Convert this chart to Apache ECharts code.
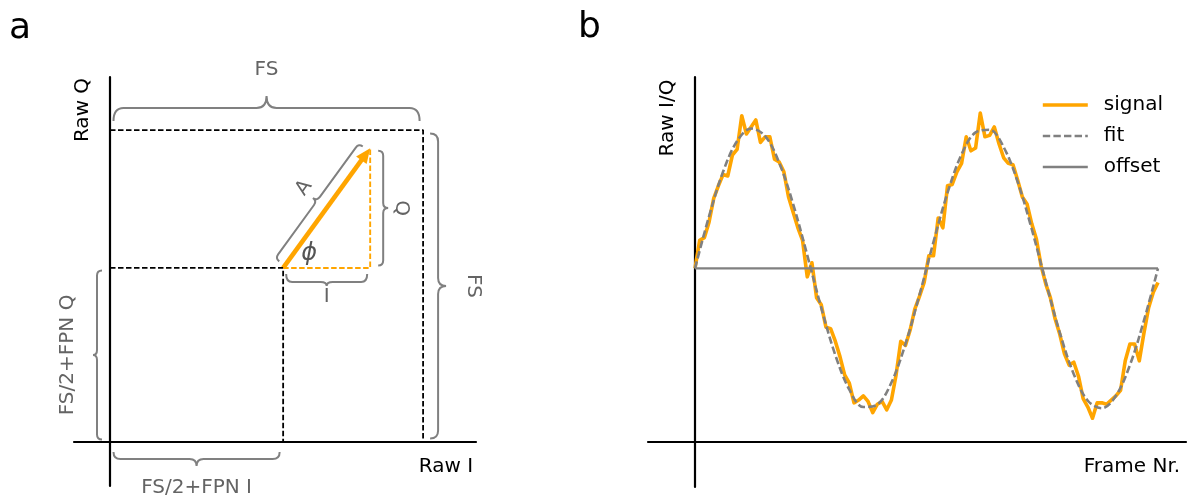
<!DOCTYPE html>
<html><head><meta charset="utf-8">
<script src="https://cdn.jsdelivr.net/npm/echarts@6/dist/echarts.min.js"></script>
<style>html,body{margin:0;padding:0;background:#fff}#c{width:1188px;height:498px}</style>
</head><body><div id="c"></div>
<script>
// ---------- Panel a (units of full scale, FS = 1) ----------
const FS = 1;
const fpnI = 0.553;   // FS/2 + FPN I
const fpnQ = 0.558;   // FS/2 + FPN Q
const vecI = 0.278;   // I component of the phasor
const vecQ = 0.384;   // Q component of the phasor

// ---------- Panel b ----------
const OFFSET = 1.24;
const frames = [
  0,1,2,3,4,5,6,7,8,9,10,11,12,13,14,15,16,17,18,19,20,21,22,23,24,25,26,27,28,29,
  30,31,32,33,34,35,36,37,38,39,40,41,42,43,44,45,46,47,48,49,50,51,52,53,54,55,56,57,58,59,
  60,61,62,63,64,65,66,67,68,69,70,71,72,73,74,75,76,77,78,79,80,81,82,83,84,85,86,87,88,89,
  90,91,92,93,94,95,96,97,98,99];
const signal = [
  0.00,0.20,0.22,0.33,0.50,0.59,0.67,0.66,0.81,0.85,
  1.09,0.96,1.01,1.06,0.90,0.94,0.94,0.78,0.76,0.69,
  0.51,0.40,0.29,0.20,-0.06,0.04,-0.21,-0.26,-0.42,-0.43,
  -0.52,-0.63,-0.76,-0.82,-0.96,-0.94,-0.91,-0.95,-1.03,-0.97,
  -0.95,-1.01,-0.94,-0.76,-0.52,-0.55,-0.44,-0.29,-0.20,-0.10,
  0.09,0.09,0.36,0.29,0.59,0.60,0.69,0.75,0.94,0.84,
  0.86,1.11,0.94,0.95,1.01,0.89,0.79,0.75,0.74,0.63,
  0.51,0.46,0.32,0.21,0.02,-0.11,-0.21,-0.36,-0.47,-0.61,
  -0.69,-0.67,-0.77,-0.93,-0.99,-1.07,-0.96,-0.96,-0.97,-0.94,
  -0.91,-0.87,-0.66,-0.54,-0.54,-0.66,-0.46,-0.28,-0.17,-0.10];
const fitFrames = [0,3,6,9,12,15,18,21,24,27,30,33,36,39,42,45,48,51,54,57,60,63,66,69,72,75,78,81,84,87,90,93,96,99];
const fitValues = [0,0.3717,0.6901,0.9096,0.9989,0.9450,0.7557,0.4582,0.0951,-0.2817,-0.6182,-0.8660,-0.9898,-0.9718,-0.8146,-0.5406,-0.1893,
  0.1893,0.5406,0.8146,0.9718,0.9898,0.8660,0.6182,0.2817,-0.0951,-0.4582,-0.7557,-0.9450,-0.9989,-0.9096,-0.6901,-0.3717,0];
const offsetFrames = [0,99];

const ORANGE = '#FFA500', GREY = '#808080', TXT = '#646464', FONT = '"DejaVu Sans"';
const cI = fpnI, cQ = fpnQ, tI = fpnI + vecI, tQ = fpnQ + vecQ;

const braces = [
  {a:[0,FS],  b:[FS,FS], gap:9,  h1:13, h2:12, r:10, inset:3.5, label:'FS', off:26, rot:0},
  {a:[FS,FS], b:[FS,0],  gap:7,  h1:8,  h2:8,  r:8,  inset:3.5, label:'FS', off:27, rot:-90},
  {a:[0,0],   b:[0,cQ],  gap:8,  h1:5,  h2:4,  r:5,  inset:2.5, label:'FS/2+FPN Q', off:25, rot:90},
  {a:[cI,0],  b:[0,0],   gap:10, h1:7,  h2:7,  r:7,  inset:3.5, label:'FS/2+FPN I', off:22, rot:0},
  {a:[tI,tQ], b:[tI,cQ], gap:8,  h1:5,  h2:5,  r:5,  inset:2.5, label:'Q', off:13.5, rot:-90},
  {a:[tI,cQ], b:[cI,cQ], gap:6,  h1:8,  h2:4,  r:6,  inset:3,   label:'I', off:11, rot:0},
  {a:[cI,cQ], b:[tI,tQ], gap:7,  h1:5,  h2:5,  r:5,  inset:3,   label:'A', off:13, rot:'along', shift:3}
];

function braceItem(params, api) {
  const b = braces[params.dataIndex];
  const p1 = api.coord(b.a), p2 = api.coord(b.b);
  const dx = p2[0]-p1[0], dy = p2[1]-p1[1], L0 = Math.hypot(dx, dy);
  const u = [dx/L0, dy/L0], n = [u[1], -u[0]];
  const P = (s,t) => [p1[0]+u[0]*s+n[0]*t, p1[1]+u[1]*s+n[1]*t];
  const s0 = b.inset, s1 = L0 - b.inset, m = (s0+s1)/2;
  const g = b.gap, h1 = g + b.h1, h2 = h1 + b.h2, r = b.r;
  const f = p => p[0].toFixed(2)+' '+p[1].toFixed(2);
  const d = 'M'+f(P(s0,g))+' Q'+f(P(s0,h1))+' '+f(P(s0+r,h1))+
            ' L'+f(P(m-r,h1))+' Q'+f(P(m,h1))+' '+f(P(m,h2))+
            ' Q'+f(P(m,h1))+' '+f(P(m+r,h1))+
            ' L'+f(P(s1-r,h1))+' Q'+f(P(s1,h1))+' '+f(P(s1,g));
  const lp = P(m + (b.shift||0), h2 + b.off);
  const rot = b.rot === 'along' ? Math.atan2(-dy, dx) : b.rot*Math.PI/180;
  return {type:'group', children:[
    {type:'path', shape:{pathData:d}, style:{stroke:GREY, fill:'none', lineWidth:2}},
    {type:'text', x:lp[0], y:lp[1], rotation:rot,
     style:{text:b.label, x:0, y:0, fill:TXT, font:'20px '+FONT, align:'center', verticalAlign:'middle'}}
  ]};
}

function arrowItem(params, api) {
  const p0 = api.coord([cI,cQ]), p1 = api.coord([tI,tQ]);
  const dx = p1[0]-p0[0], dy = p1[1]-p0[1], L = Math.hypot(dx,dy);
  const u = [dx/L, dy/L], n = [u[1], -u[0]];
  const hl = 15, hw = 6.5;
  const base = [p1[0]-u[0]*hl, p1[1]-u[1]*hl];
  const shaftEnd = [p1[0]-u[0]*hl*0.7, p1[1]-u[1]*hl*0.7];
  return {type:'group', children:[
    {type:'line', shape:{x1:p0[0], y1:p0[1], x2:shaftEnd[0], y2:shaftEnd[1]}, style:{stroke:ORANGE, lineWidth:4.6}},
    {type:'polygon', shape:{points:[p1, [base[0]+n[0]*hw, base[1]+n[1]*hw], [base[0]-n[0]*hw, base[1]-n[1]*hw]]}, style:{fill:ORANGE}},
    {type:'text', x:p0[0]+26, y:p0[1]-14,
     style:{text:'ϕ', x:0, y:0, fill:'#555', font:'italic 24px '+FONT, align:'center', verticalAlign:'middle'}}
  ]};
}

const hidden = {axisTick:{show:false}, axisLabel:{show:false}, splitLine:{show:false}};
const axisLine = {onZero:true, lineStyle:{color:'#000', width:2.2}};

const option = {
  animation:false,
  grid:[
    {left:74, top:77, width:402, height:409},
    {left:648, top:77, width:538, height:410}
  ],
  xAxis:[
    Object.assign({gridIndex:0, type:'value', min:-0.115, max:1.169, axisLine}, hidden),
    Object.assign({gridIndex:1, type:'value', min:-10.05, max:104.99, axisLine}, hidden)
  ],
  yAxis:[
    Object.assign({gridIndex:0, type:'value', min:-0.141, max:1.170, axisLine}, hidden),
    Object.assign({gridIndex:1, type:'value', min:-0.321, max:2.607, axisLine}, hidden)
  ],
  legend:{
    data:['signal','fit','offset'], orient:'vertical', left:1036, top:90,
    itemWidth:45, itemHeight:14, itemGap:11, selectedMode:false,
    itemStyle:{opacity:0},
    lineStyle:{width:'inherit'},
    textStyle:{fontSize:20, fontFamily:'DejaVu Sans', color:'#000', lineHeight:20, padding:[0,0,0,11]}
  },
  graphic:[
    {type:'text', x:9, y:29, style:{text:'a', font:'36px '+FONT, fill:'#000', align:'left', verticalAlign:'middle'}},
    {type:'text', x:578, y:28, style:{text:'b', font:'36px '+FONT, fill:'#000', align:'left', verticalAlign:'middle'}},
    {type:'text', x:83, y:110, rotation:Math.PI/2, style:{text:'Raw Q', font:'20px '+FONT, fill:'#000', align:'center', verticalAlign:'middle'}},
    {type:'text', x:446, y:467, style:{text:'Raw I', font:'20px '+FONT, fill:'#000', align:'center', verticalAlign:'middle'}},
    {type:'text', x:668, y:118, rotation:Math.PI/2, style:{text:'Raw I/Q', font:'20px '+FONT, fill:'#000', align:'center', verticalAlign:'middle'}},
    {type:'text', x:1132, y:467, style:{text:'Frame Nr.', font:'20px '+FONT, fill:'#000', align:'center', verticalAlign:'middle'}}
  ],
  series:[
    {type:'line', name:'fs box', xAxisIndex:0, yAxisIndex:0, symbol:'none', silent:true,
     data:[[0,FS],[FS,FS],[FS,0]], lineStyle:{color:'#000', width:1.8, type:[5.5,2.5]}},
    {type:'line', name:'offset box', xAxisIndex:0, yAxisIndex:0, symbol:'none', silent:true,
     data:[[0,fpnQ],[fpnI,fpnQ],[fpnI,0]], lineStyle:{color:'#000', width:1.8, type:[5.5,2.5]}},
    {type:'line', name:'components', xAxisIndex:0, yAxisIndex:0, symbol:'none', silent:true,
     data:[[cI,cQ],[tI,cQ],[tI,tQ]], lineStyle:{color:ORANGE, width:1.9, type:[5.5,2.5]}},
    {type:'custom', name:'arrow', xAxisIndex:0, yAxisIndex:0, silent:true, clip:false,
     data:[[cI,cQ]], renderItem:arrowItem},
    {type:'custom', name:'braces', xAxisIndex:0, yAxisIndex:0, silent:true, clip:false,
     data:braces.map(b => b.a), renderItem:braceItem},

    {type:'line', name:'signal', xAxisIndex:1, yAxisIndex:1, symbol:'none', showSymbol:false, silent:true,
     data:frames.map((f,i) => [f, OFFSET + signal[i]]),
     lineStyle:{color:ORANGE, width:3.6, join:'round'}, itemStyle:{color:ORANGE}},
    {type:'line', name:'fit', xAxisIndex:1, yAxisIndex:1, symbol:'none', showSymbol:false, silent:true, smooth:0.35,
     data:fitFrames.map((f,i) => [f, OFFSET + fitValues[i]]),
     lineStyle:{color:GREY, width:2.6, type:[7.4,3.2]}, itemStyle:{color:GREY}},
    {type:'line', name:'offset', xAxisIndex:1, yAxisIndex:1, symbol:'none', showSymbol:false, silent:true,
     data:offsetFrames.map(f => [f, OFFSET]),
     lineStyle:{color:GREY, width:2.4}, itemStyle:{color:GREY}}
  ]
};
const chart = echarts.init(document.getElementById('c'));
chart.setOption(option);
</script>
</body></html>
